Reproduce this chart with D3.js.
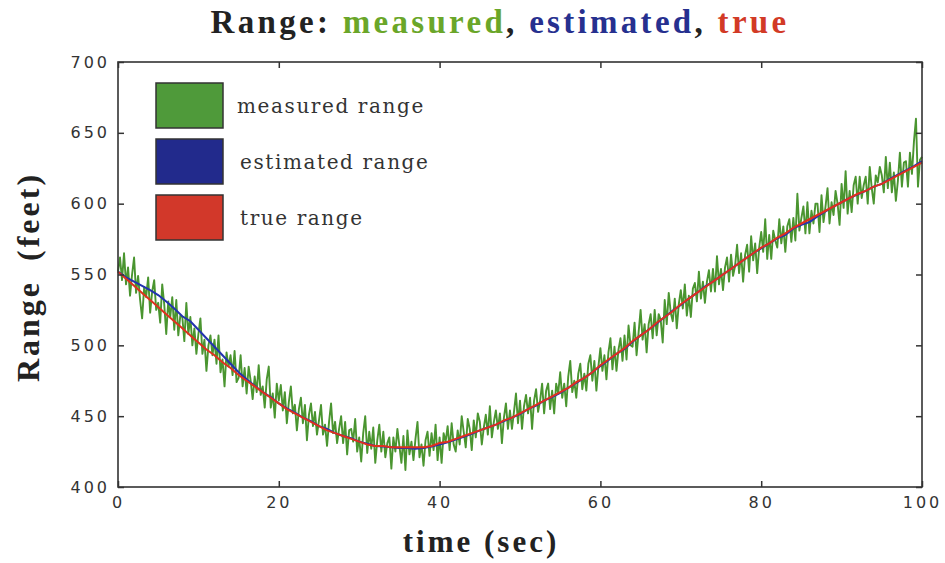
<!DOCTYPE html>
<html>
<head>
<meta charset="utf-8">
<script src="https://cdn.jsdelivr.net/npm/d3@7"></script>
<style>
  html, body { margin: 0; padding: 0; background: #fff; }
  svg { display: block; }
</style>
</head>
<body>
<svg id="chart" width="945" height="563"></svg>
<script>
// Range of a target over 100 s: noisy measurement, filter estimate, truth.

const timeTicks = [0, 20, 40, 60, 80, 100];
const rangeTicks = [400, 450, 500, 550, 600, 650, 700];

// Measured range, one sample every 0.25 s (t = 0 .. 100)
const measuredStep = 0.25;
const measuredRange = [
  552, 562, 546, 565,  543, 555, 535, 550,  562, 537, 549, 532,  519, 541, 534, 548,
  523, 538, 546, 525,  530, 516, 543, 529,  508, 531, 520, 534,  511, 532, 507, 521,
  520, 503, 530, 508,  520, 500, 512, 494,  508, 519, 494, 504,  482, 500, 507, 493,
  504, 487, 507, 481,  490, 471, 495, 485,  493, 479, 496, 474,  477, 493, 471, 484,
  466, 485, 475, 462,  478, 467, 486, 465,  471, 456, 476, 485,  456, 466, 449, 473,
  461, 472, 454, 467,  445, 460, 471, 452,  458, 440, 455, 463,  445, 458, 433, 451,
  459, 443, 453, 437,  447, 458, 437, 444,  429, 446, 459, 438,  446, 431, 441, 450,
  431, 446, 423, 440,  441, 432, 448, 425,  435, 418, 438, 450,  424, 439, 427, 442,
  417, 433, 444, 425,  439, 421, 431, 435,  413, 435, 425, 441,  429, 417, 436, 412,
  440, 423, 432, 419,  434, 446, 421, 430,  415, 433, 439, 422,  438, 426, 444, 419,
  435, 417, 438, 432,  443, 426, 445, 430,  425, 440, 430, 450,  439, 428, 448, 441,
  426, 447, 435, 452,  446, 430, 442, 451,  437, 457, 435, 446,  454, 441, 452, 431,
  449, 459, 441, 454,  441, 453, 466, 445,  461, 441, 457, 465,  452, 463, 441, 461,
  469, 453, 461, 473,  452, 468, 473, 455,  468, 452, 473, 466,  481, 463, 473, 457,
  478, 489, 467, 475,  463, 480, 487, 469,  480, 468, 487, 493,  475, 489, 468, 485,
  498, 482, 493, 476,  495, 505, 483, 499,  482, 497, 505, 489,  507, 490, 514, 500,
  499, 516, 493, 509,  525, 504, 515, 495,  515, 522, 505, 525,  507, 522, 518, 502,
  532, 515, 537, 523,  517, 533, 512, 529,  539, 526, 543, 521,  535, 520, 540, 544,
  531, 552, 533, 545,  530, 545, 553, 538,  554, 538, 563, 543,  554, 539, 555, 562,
  545, 564, 549, 556,  571, 551, 565, 545,  564, 571, 552, 577,  560, 572, 551, 569,
  580, 566, 589, 561,  578, 561, 581, 574,  569, 589, 572, 584,  566, 584, 589, 573,
  590, 574, 607, 581,  590, 598, 579, 601,  579, 595, 586, 600,  600, 580, 606, 587,
  598, 611, 586, 601,  592, 609, 600, 585,  614, 597, 623, 593,  609, 594, 613, 619,
  600, 619, 604, 613,  619, 600, 626, 611,  600, 620, 615, 626,  620, 608, 633, 611,
  629, 608, 622, 602,  616, 636, 612, 629,  630, 612, 636, 621,  644, 660, 612, 631,
  633
];

// Filter estimate and true range, one value per second (t = 0 .. 100)
const estimatedRange = [
  552, 548, 545, 542, 539, 535.5, 531, 526, 520.5, 517,
  511, 505, 499, 493, 487, 481, 476, 471.5, 467, 463.5,
  459, 455.5, 452.5, 449, 446.5, 443, 441, 438, 436, 434.5,
  432, 430.5, 429, 428.5, 428, 427.5, 427.5, 427, 427.5, 428.5,
  430, 431.5, 433.5, 435.5, 437.5, 440, 442, 444, 446.5, 449,
  451.5, 455, 457.5, 461, 463.5, 466.5, 470, 473.5, 477, 481,
  485.5, 489.5, 494, 497.5, 502.5, 507, 511, 515.5, 520, 524.5,
  528.5, 533, 537, 541.5, 545, 549, 553, 557, 561, 565,
  568.5, 572, 575.5, 578, 582.5, 585, 587, 591, 594.5, 598,
  601, 604, 606.5, 609, 612, 614, 617.5, 620.5, 623.5, 626.5,
  630
];
const trueRange = [
  552, 547, 542, 537, 532, 527, 522, 517, 512, 507,
  502, 497, 493, 488, 484, 479, 475, 471, 467, 463,
  459, 455, 452, 449, 446, 443, 440, 438, 436, 434,
  432, 430, 429, 429, 428, 428, 428, 428, 428, 429,
  431, 432, 434, 436, 438, 440, 442, 444, 447, 449,
  452, 455, 458, 461, 464, 467, 470, 474, 477, 481,
  486, 490, 494, 498, 503, 507, 511, 516, 520, 524,
  529, 533, 537, 541, 545, 549, 553, 557, 561, 565,
  569, 572, 576, 579, 583, 586, 589, 592, 595, 598,
  601, 604, 607, 609, 612, 614, 617, 620, 623, 626,
  629
];

const legendItems = [
  { label: "measured range", color: "#4f9a3a" },
  { label: "estimated range", color: "#222a8c" },
  { label: "true range", color: "#d2382a" }
];

const svg = d3.select("#chart");
const plot = { left: 118, right: 922, top: 62, bottom: 487 };

const x = d3.scaleLinear().domain([0, 100]).range([plot.left, plot.right]);
const y = d3.scaleLinear().domain([400, 700]).range([plot.bottom, plot.top]);

const axisColor = "#333";
const tickFont = "'DejaVu Sans', sans-serif";

// Title
const title = svg.append("text")
  .attr("x", 500).attr("y", 33)
  .attr("text-anchor", "middle")
  .style("font-family", "'Liberation Serif', 'Times New Roman', serif")
  .style("font-weight", "bold")
  .style("font-size", "33px")
  .style("letter-spacing", "3.3px");
[
  ["Range", "#222"], [": ", "#222"], ["measured", "#6aa629"], [", ", "#222"],
  ["estimated", "#26308f"], [", ", "#222"], ["true", "#d23a26"]
].forEach(([t, c]) => title.append("tspan").attr("fill", c).text(t));

// Data lines
const measuredLine = d3.line()
  .x((d, i) => x(i * measuredStep))
  .y(d => y(d));
const secondLine = d3.line()
  .x((d, i) => x(i))
  .y(d => y(d));

const g = svg.append("g");
g.append("path").datum(measuredRange)
  .attr("d", measuredLine)
  .attr("fill", "none")
  .attr("stroke", "#4a9530")
  .attr("stroke-width", 1.9)
  .attr("stroke-linejoin", "round");
g.append("path").datum(estimatedRange)
  .attr("d", secondLine)
  .attr("fill", "none")
  .attr("stroke", "#2333b0")
  .attr("stroke-width", 2);
g.append("path").datum(trueRange)
  .attr("d", secondLine)
  .attr("fill", "none")
  .attr("stroke", "#e0301e")
  .attr("stroke-width", 2);

// Axes: box with inward ticks on all four sides
const tickLen = 6;
const axisStyle = sel => {
  sel.select(".domain").remove();
  sel.selectAll(".tick line").attr("stroke", axisColor).attr("stroke-width", 1.5);
};
const tickText = s => s.selectAll(".tick text")
  .attr("fill", axisColor)
  .style("font-family", tickFont)
  .style("font-size", "16px")
  .style("letter-spacing", "3px");

svg.append("g")
  .attr("transform", `translate(0,${plot.bottom})`)
  .call(d3.axisBottom(x).tickValues(timeTicks).tickSizeInner(-tickLen).tickSizeOuter(0).tickPadding(10))
  .call(axisStyle)
  .call(tickText);

svg.append("g")
  .attr("transform", `translate(0,${plot.top})`)
  .call(d3.axisTop(x).tickValues(timeTicks).tickSizeInner(-tickLen).tickSizeOuter(0).tickFormat(""))
  .call(axisStyle);

svg.append("g")
  .attr("transform", `translate(${plot.left},0)`)
  .call(d3.axisLeft(y).tickValues(rangeTicks).tickSizeInner(-tickLen).tickSizeOuter(0).tickPadding(8))
  .call(axisStyle)
  .call(tickText);

svg.append("g")
  .attr("transform", `translate(${plot.right},0)`)
  .call(d3.axisRight(y).tickValues(rangeTicks).tickSizeInner(-tickLen).tickSizeOuter(0).tickFormat(""))
  .call(axisStyle);

svg.append("rect")
  .attr("x", plot.left).attr("y", plot.top)
  .attr("width", plot.right - plot.left).attr("height", plot.bottom - plot.top)
  .attr("fill", "none")
  .attr("stroke", axisColor)
  .attr("stroke-width", 1.6);

// Axis titles
const labelFont = "'Liberation Serif', 'Times New Roman', serif";
svg.append("text")
  .attr("x", 481).attr("y", 552)
  .attr("text-anchor", "middle")
  .attr("fill", "#222")
  .style("font-family", labelFont)
  .style("font-weight", "bold")
  .style("font-size", "31px")
  .style("letter-spacing", "3px")
  .text("time (sec)");

svg.append("text")
  .attr("transform", "translate(39,277) rotate(-90)")
  .attr("text-anchor", "middle")
  .attr("fill", "#222")
  .style("font-family", labelFont)
  .style("font-weight", "bold")
  .style("font-size", "32px")
  .style("letter-spacing", "3px")
  .style("word-spacing", "8px")
  .text("Range (feet)");

// Legend
const legend = svg.append("g").attr("transform", "translate(156,83)");
legendItems.forEach((d, i) => {
  const row = legend.append("g").attr("transform", `translate(0,${i * 56})`);
  row.append("rect")
    .attr("width", 67).attr("height", 45)
    .attr("fill", d.color)
    .attr("stroke", "#333")
    .attr("stroke-width", 1.5);
  row.append("text")
    .attr("x", i === 0 ? 81 : 84).attr("y", 30)
    .attr("fill", "#333")
    .style("font-family", "'DejaVu Serif', serif")
    .style("font-size", "20px")
    .style("letter-spacing", "1.6px")
    .text(d.label);
});
</script>
</body>
</html>
